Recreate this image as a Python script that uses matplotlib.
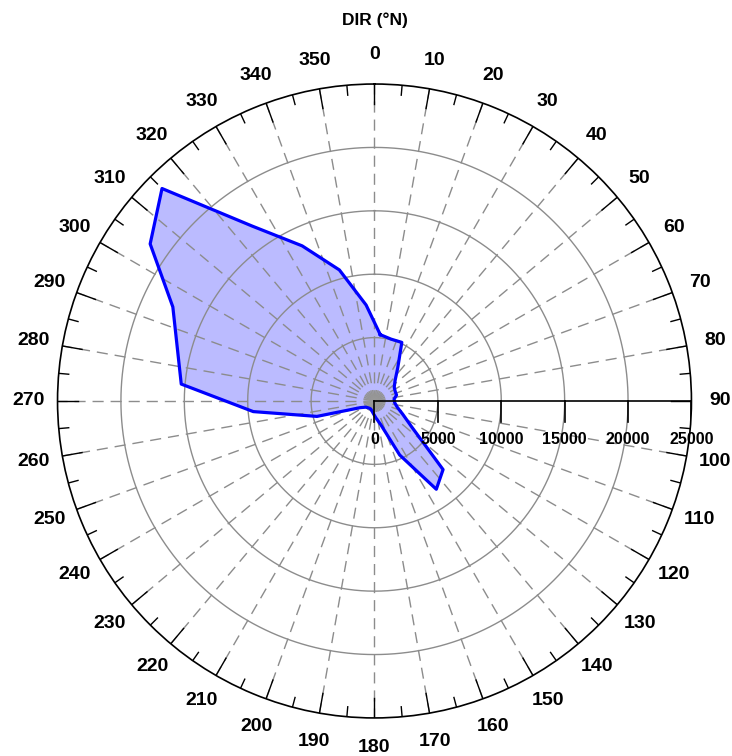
import numpy as np
import matplotlib.pyplot as plt

plt.rcParams['font.family'] = ['Liberation Sans', 'DejaVu Sans']

# direction bins (deg clockwise from north) and totals per bin
dir_deg = [5, 15, 25, 35, 45, 55, 65, 75, 85, 95, 105, 115,
           125, 135, 145, 155, 165, 175, 185, 195, 205, 215, 225, 235,
           245, 255, 265, 275, 285, 295, 305, 315, 325, 335, 345, 355]
totals = [5250, 5050, 5100, 3200, 2300, 1900, 1800, 1800, 1550, 1600, 1850, 2450,
          3600, 7650, 8500, 4700, 1950, 1350, 1000, 800, 700, 700, 750, 850,
          1250, 4700, 9600, 15300, 16100, 17550, 21600, 23700, 16850, 13500, 10700, 7600]

ring_values = [0, 5000, 10000, 15000, 20000, 25000]
dir_ticks = list(range(0, 360, 10))
r_max = 25000

fig = plt.figure(figsize=(7.32, 7.56), dpi=100)
ax = fig.add_axes([0.0786, 0.0503, 0.866, 0.8386], projection='polar')
ax.set_theta_zero_location('N')
ax.set_theta_direction(-1)
ax.set_ylim(0, r_max)
ax.grid(False)
ax.set_xticks([])
ax.set_yticks([])
ax.spines['polar'].set_color('black')
ax.spines['polar'].set_linewidth(1.2)

# data units per pixel along the radius
upp = r_max / 317.0


def px_to_polar(x_px, y_px):
    # offset from centre in pixels (x right, y up) -> (theta, r)
    return np.arctan2(x_px, y_px), np.hypot(x_px, y_px) * upp


grid_col = '#8c8c8c'

# rings
full = np.linspace(0, 2 * np.pi, 721)
for r in ring_values[1:-1]:
    ax.plot(full, np.full_like(full, r), color=grid_col, lw=1, zorder=2)

# dashed spokes
for d in dir_ticks:
    if d == 90:
        continue
    t = np.radians(d)
    ax.plot([t, t], [0, r_max], color=grid_col, lw=1, ls=(0, (8, 5)), zorder=2)

# dense hub in the middle
for d in range(0, 360, 5):
    t = np.radians(d)
    ax.plot([t, t], [0, 850], color='#999999', lw=0.4, zorder=2)

# rim ticks
for d in range(0, 360, 5):
    t = np.radians(d)
    tick_len = 20 * upp if d % 10 == 0 else 10 * upp
    ax.plot([t, t], [r_max - tick_len, r_max], color='black', lw=1, zorder=3)

# the rose itself
theta = np.radians(dir_deg + dir_deg[:1])
rad = totals + totals[:1]
ax.fill(theta, rad, color='#bbbbff', zorder=1)
ax.plot(theta, rad, color='#0000ff', lw=2.3, zorder=4)

# radial scale along east
ax.plot([np.pi / 2, np.pi / 2], [0, r_max], color='black', lw=1.2, zorder=5)
for r in ring_values:
    x_px = r / upp
    t0, r0 = (np.pi / 2, r) if r > 0 else (np.pi, 0)
    t1, r1 = px_to_polar(x_px, -21)
    ax.plot([t0, t1], [r0, r1], color='black', lw=1.2, zorder=5)
    tl, rl = px_to_polar(x_px, -39)
    ax.text(tl, rl, str(r), ha='center', va='center', fontsize=11.5,
            fontweight='bold', zorder=6)

# compass labels
for d in dir_ticks:
    ax.text(np.radians(d), 27300, str(d), ha='center', va='center',
            fontsize=14, fontweight='bold')

fig.text(0.5116, 1 - 20 / 756, 'DIR (°N)', ha='center', va='center',
         fontsize=12.5, fontweight='bold')

fig.savefig('out.png', dpi=100)
